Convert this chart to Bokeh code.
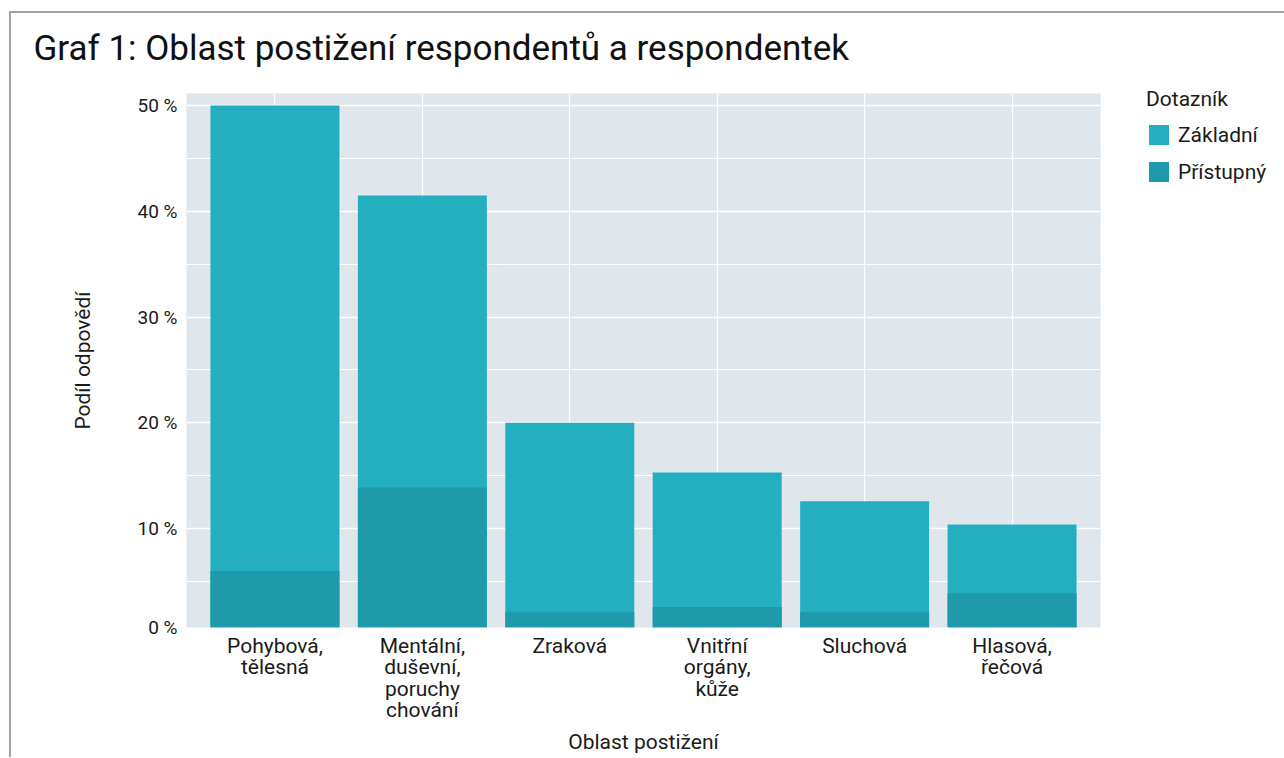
from bokeh.plotting import figure
from bokeh.models import (FactorRange, Range1d, FixedTicker, Legend, LegendItem, ColumnDataSource)
from bokeh.embed import file_html
from bokeh.resources import INLINE

# ---- data ----
categories = ["Pohybová,\ntělesná", "Mentální,\nduševní,\nporuchy\nchování", "Zraková",
              "Vnitřní\norgány,\nkůže", "Sluchová", "Hlasová,\nřečová"]
zakladni = [50.0, 41.5, 20.0, 15.3, 12.6, 10.4]
pristupny = [6.0, 13.9, 2.1, 2.6, 2.1, 3.9]
y_ticks = [10, 20, 30, 40, 50]
y_minor = [5, 15, 25, 35, 45]
series_names = ["Základní", "Přístupný"]

C_ZAK = "#24AFC1"
C_PRI = "#1E9AAA"
PANEL = "#DFE6EC"
FONT = "Roboto"
TXT = "#1a1a1a"
FRAME_GREY = "#a3a3a3"

Y_START, Y_END = 0.66, 51.13

src = ColumnDataSource(dict(cat=categories, zak=zakladni, pri=pristupny))

shadow = (f"inset 9px 0 0 #ffffff, inset 0 11px 0 #ffffff, "
          f"inset 11px 0 0 {FRAME_GREY}, inset 0 13px 0 {FRAME_GREY}")

p = figure(frame_width=914, frame_height=534, output_backend="svg", toolbar_location=None,
           x_range=FactorRange(factors=categories, range_padding=0.1, range_padding_units="absolute"),
           y_range=Range1d(Y_START, Y_END),
           min_border_left=186, min_border_right=170, min_border_top=93, min_border_bottom=125,
           styles={"box-shadow": shadow, "background-color": "#ffffff"})

p.title.text = "Graf 1: Oblast postižení respondentů a respondentek"
p.title.text_font = "Roboto"
p.title.text_font_size = "35px"
p.title.text_font_style = "normal"
p.title.text_color = "#111111"
p.title.align = "left"
p.title.offset = -153
p.title.standoff = 49

p.background_fill_color = PANEL
p.border_fill_alpha = 0
p.outline_line_color = None

r1 = p.vbar(x="cat", top="zak", bottom=0, width=0.875, source=src,
            fill_color=C_ZAK, line_color=None)
r2 = p.vbar(x="cat", top="pri", bottom=0, width=0.875, source=src,
            fill_color=C_PRI, line_color=None)

# axes
p.yaxis.ticker = FixedTicker(ticks=[Y_START] + y_ticks, minor_ticks=y_minor)
overrides = {Y_START: "0 %"}
for t in y_ticks:
    overrides[t] = f"{t} %"
p.yaxis.major_label_overrides = overrides
for ax in (p.xaxis[0], p.yaxis[0]):
    ax.axis_line_color = None
    ax.major_tick_line_color = None
    ax.minor_tick_line_color = None
    ax.major_label_text_font = FONT
    ax.major_label_text_color = TXT
    ax.axis_label_text_font = FONT
    ax.axis_label_text_font_style = "normal"
    ax.axis_label_text_color = TXT
    ax.axis_label_text_font_size = "21px"

p.yaxis.major_label_text_font_size = "19px"
p.yaxis.major_label_standoff = 3
p.yaxis.axis_label = "Podíl odpovědí"
p.yaxis.axis_label_standoff = 40

p.xaxis.major_label_text_font_size = "21px"
p.xaxis.major_label_text_line_height = 0.9
p.xaxis.major_label_standoff = 0
p.xaxis.axis_label = "Oblast postižení"
p.xaxis.axis_label_standoff = 5

p.xgrid.grid_line_color = "white"
p.xgrid.grid_line_width = 1.3
p.ygrid.grid_line_color = "white"
p.ygrid.grid_line_width = 1.3
p.ygrid.minor_grid_line_color = "white"
p.ygrid.minor_grid_line_width = 1.0

legend = Legend(items=[LegendItem(label=series_names[0], renderers=[r1]),
                       LegendItem(label=series_names[1], renderers=[r2])],
                location=(46, 443))
legend.title = "Dotazník"
legend.title_text_font = FONT
legend.title_text_font_size = "21px"
legend.title_text_font_style = "normal"
legend.title_text_color = TXT
legend.title_standoff = 11
legend.label_text_font = FONT
legend.label_text_font_size = "21px"
legend.label_text_color = TXT
legend.glyph_width = 25
legend.glyph_height = 25
legend.label_height = 25
legend.spacing = 12
legend.label_standoff = 7
legend.padding = 0
legend.margin = 0
legend.border_line_color = None
legend.background_fill_alpha = 0
p.add_layout(legend, "right")

open("out.html", "w").write(file_html(p, INLINE))
